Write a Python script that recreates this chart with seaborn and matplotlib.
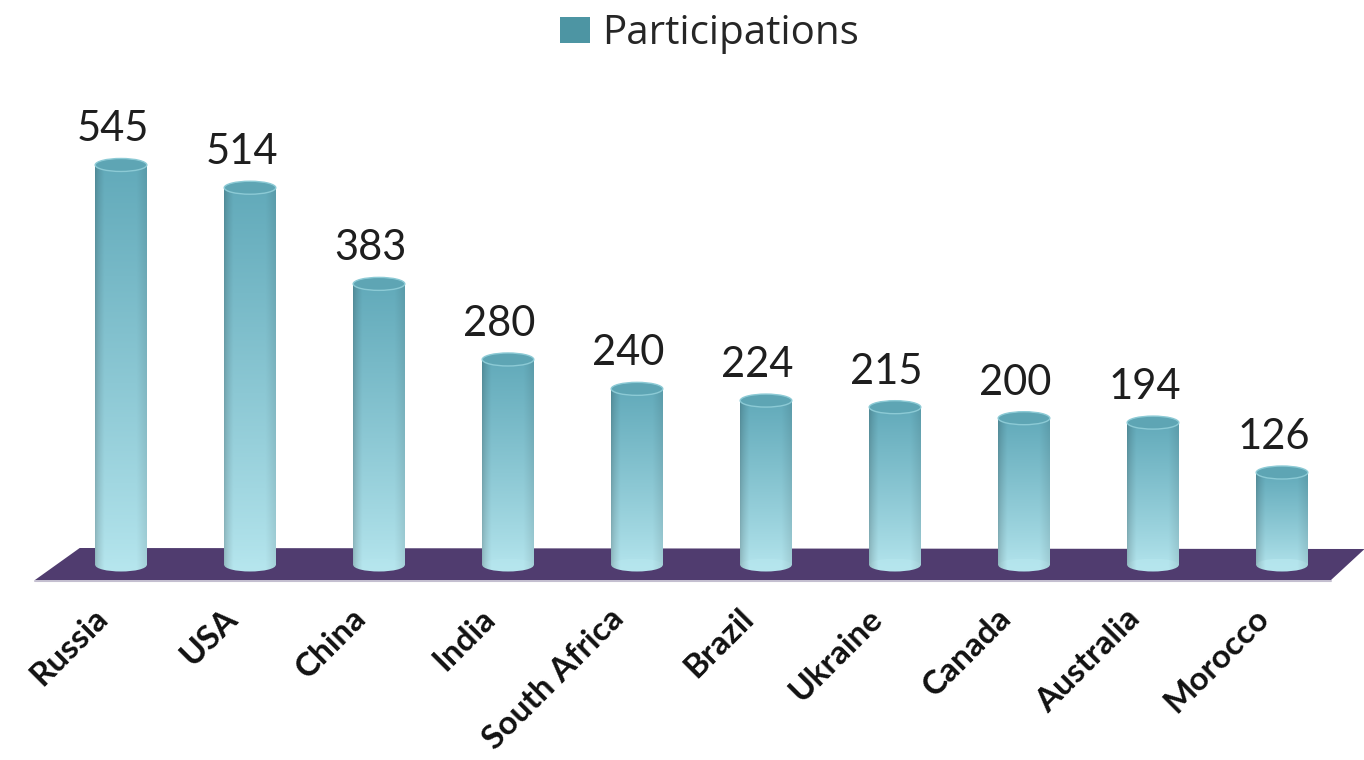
import numpy as np
import pandas as pd
import matplotlib
matplotlib.use("Agg")
import matplotlib.pyplot as plt
import seaborn as sns
from matplotlib.patches import Ellipse, Polygon, Rectangle

countries = ["Russia", "USA", "China", "India", "South Africa", "Brazil",
             "Ukraine", "Canada", "Australia", "Morocco"]
participations = [545, 514, 383, 280, 240, 224, 215, 200, 194, 126]
series_name = "Participations"

sns.set_theme(style="white")
plt.rcParams["font.family"] = ["Lato", "DejaVu Sans"]

W, H = 1364, 760
fig = plt.figure(figsize=(W / 100, H / 100), dpi=100)
ax = fig.add_axes([0, 0, 1, 1])

df = pd.DataFrame({"country": countries, series_name: participations})
sns.barplot(data=df, x="country", y=series_name, color="#7cc3cf",
            saturation=1, width=0.4, ax=ax, zorder=3)

# axis mapping (layout only)
px_per_cat = 129.0
x0_px = 121.0
base_px = 565.0
px_per_unit = 0.734
xlim = (-x0_px / px_per_cat, (W - x0_px) / px_per_cat)
ylim = ((base_px - H) / px_per_unit, base_px / px_per_unit)
n = len(countries)

def py(pix):
    return (base_px - pix) / px_per_unit

eh = 13 / px_per_unit  # ellipse height in data units

# floor
floor = Polygon([(-0.667, py(580)), (-0.32, py(548)), (n - 1 + 0.64, py(549)),
                 (n - 1 + 0.38, py(580))], closed=True,
                facecolor="#503c6f", edgecolor="none", zorder=1)
ax.add_patch(floor)
ax.plot([-0.667, n - 1 + 0.38], [py(581), py(581)], color="#c4bfd0", lw=1.5, zorder=0.9)

# gradient for cylinders
nx, ny = 80, 120
xs = np.linspace(0, 1, nx)
ys = np.linspace(0, 1, ny)
horiz = 0.80 + 0.20 * np.clip(xs / 0.18, 0, 1) ** 0.7
horiz = np.where(xs > 0.8, horiz - (xs - 0.8) * 0.45, horiz)
top_c = np.array([98, 170, 186]) / 255.0
bot_c = np.array([182, 230, 238]) / 255.0

for p in list(ax.patches):
    if p is floor:
        continue
    x = p.get_x(); w = p.get_width(); h = p.get_height()
    if h <= 0:
        continue
    xc = x + w / 2
    t = ys ** 0.9
    vert = (1 - t)[:, None, None] * bot_c + t[:, None, None] * top_c
    arr = np.clip(vert * horiz[None, :, None], 0, 1)
    im = ax.imshow(arr, extent=(x, x + w, -eh / 2, h), origin="lower",
                   aspect="auto", zorder=3.2, interpolation="bilinear")
    im.set_clip_path(p)
    be = Ellipse((xc, 0), w, eh, facecolor="none", edgecolor="none")
    ax.add_patch(be)
    im2 = ax.imshow(arr[:3], extent=(x, x + w, -eh / 2, eh / 2), origin="lower",
                    aspect="auto", zorder=3.2, interpolation="bilinear")
    im2.set_clip_path(be)
    te = Ellipse((xc, h), w, eh, facecolor="#5ea5b4", edgecolor="#8ccad5",
                 lw=1.0, zorder=3.5)
    ax.add_patch(te)
    p.set_facecolor("none")
    p.set_edgecolor("none")
    ax.annotate(f"{int(round(h))}", (xc, h), xytext=(-6, 17), textcoords="offset points",
                ha="center", va="baseline", fontsize=30, color="#1e1e1e", zorder=5)

for i, name in enumerate(countries):
    ax.text(i - 0.085, py(620), name, rotation=45, rotation_mode="anchor",
            ha="right", va="baseline", fontsize=24, fontweight="bold", color="#111111")

handle = Rectangle((0, 0), 1, 1, facecolor="#4d95a3", edgecolor="none")
ax.legend(handles=[handle], labels=[series_name], loc="upper center",
          bbox_to_anchor=(0.52, 1.03), frameon=False,
          prop={"family": ["Open Sans", "DejaVu Sans"], "size": 29},
          handlelength=0.75, handleheight=0.6, handletextpad=0.3)

ax.set_xlim(*xlim)
ax.set_ylim(*ylim)
ax.axis("off")
fig.savefig("out.png", dpi=100, facecolor="white")
